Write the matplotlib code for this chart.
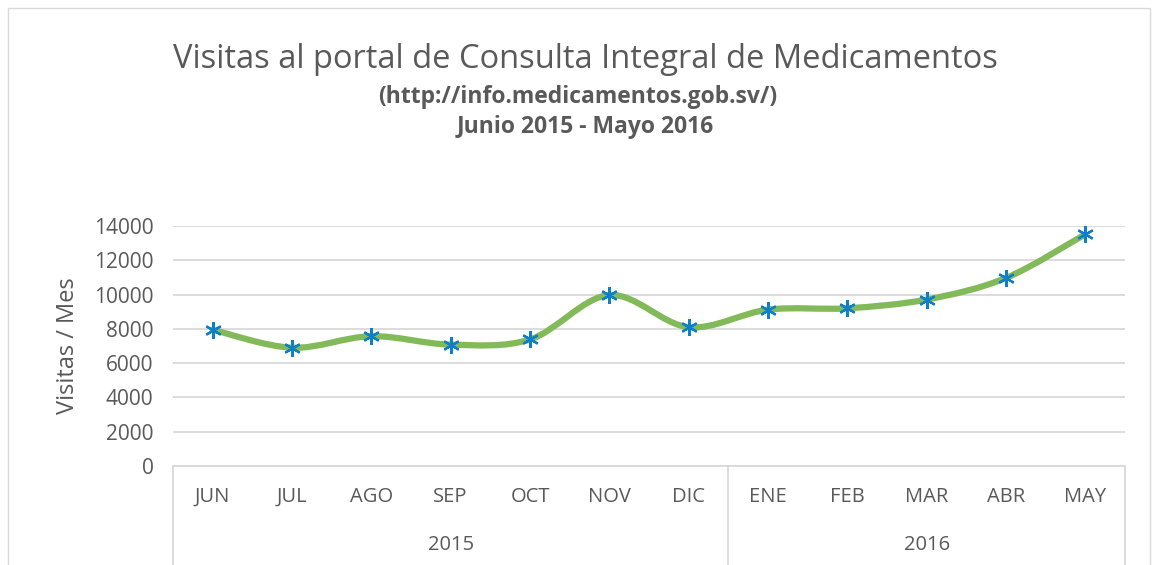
import numpy as np
import matplotlib.pyplot as plt
from matplotlib.path import Path
from matplotlib.patches import PathPatch, Rectangle
import matplotlib.transforms as mtransforms

# Data
months = ['JUN', 'JUL', 'AGO', 'SEP', 'OCT', 'NOV', 'DIC', 'ENE', 'FEB', 'MAR', 'ABR', 'MAY']
years = ['2015', '2016']
months_per_year = [7, 5]
visits = [7950, 6900, 7570, 7080, 7380, 9970, 8100, 9120, 9200, 9710, 10970, 13520]

TEXT = '#595959'
GRID = '#D9D9D9'
LINE = '#82BA5A'
MARK = '#0F7FC9'
FONT = 'Open Sans'

W, H = 1153, 565
fig = plt.figure(figsize=(W / 100, H / 100), dpi=100)
fig.patch.set_facecolor('white')

# outer chart border
fig.add_artist(Rectangle((8 / W, -0.01), (1150 - 8) / W, (H - 8) / H + 0.01,
                         transform=fig.transFigure, fill=False, edgecolor=GRID, lw=1))

left, right, top, bottom = 173, 1125, 226, 466
ax = fig.add_axes([left / W, 1 - bottom / H, (right - left) / W, (bottom - top) / H])
ax.set_xlim(-0.5, len(months) - 0.5)
ax.set_ylim(0, 14000)
ax.set_yticks(np.arange(0, 14001, 2000))
ax.yaxis.grid(True, color=GRID, lw=1.3)
ax.set_axisbelow(True)
for s in ax.spines.values():
    s.set_visible(False)
ax.tick_params(axis='y', length=0, pad=14, labelsize=15, labelcolor=TEXT)
for lbl in ax.get_yticklabels():
    lbl.set_fontfamily(FONT)

ax.set_xticks(range(len(months)))
ax.set_xticklabels(months, fontfamily=FONT, fontsize=14.5, color=TEXT)
ax.tick_params(axis='x', length=0, pad=15)

ax.set_ylabel('Visitas / Mes', fontfamily=FONT, fontsize=17, color=TEXT, labelpad=10)

# smoothed line (Excel style bezier through the points)
x = np.arange(len(visits), dtype=float)
y = np.array(visits, dtype=float)
px = np.concatenate([[x[0]], x, [x[-1]]])
py = np.concatenate([[y[0]], y, [y[-1]]])
verts = [(x[0], y[0])]
codes = [Path.MOVETO]
for i in range(1, len(x)):
    c1 = (px[i] + (px[i + 1] - px[i - 1]) / 6, py[i] + (py[i + 1] - py[i - 1]) / 6)
    c2 = (px[i + 1] - (px[i + 2] - px[i]) / 6, py[i + 1] - (py[i + 2] - py[i]) / 6)
    verts += [c1, c2, (px[i + 1], py[i + 1])]
    codes += [Path.CURVE4] * 3
ax.add_patch(PathPatch(Path(verts, codes), fill=False, edgecolor=LINE, lw=4.5,
                       capstyle='round', joinstyle='round', zorder=3))
ax.plot(x, y, linestyle='none', marker=(6, 2, 0), markersize=12,
        markeredgecolor=MARK, markeredgewidth=1.6, zorder=4)

# multi-level category axis
trans = mtransforms.blended_transform_factory(ax.transData, ax.transAxes)
depth = -(H - bottom) / (bottom - top) - 0.05
ax.plot([-0.5, len(months) - 0.5], [0, 0], transform=trans, color=GRID, lw=1.3, clip_on=False)
edges = np.concatenate([[0], np.cumsum(months_per_year)]) - 0.5
for e in edges:
    ax.plot([e, e], [0, depth], transform=trans, color=GRID, lw=1.3, clip_on=False)
for yr, a, b in zip(years, edges[:-1], edges[1:]):
    ax.text((a + b) / 2, -(545 - bottom) / (bottom - top), yr, transform=trans,
            ha='center', va='center', fontfamily=FONT, fontsize=14.5, color=TEXT)

# titles
fig.text(585 / W, 1 - 60 / H, 'Visitas al portal de Consulta Integral de Medicamentos',
         ha='center', va='center', fontfamily=FONT, fontsize=23.5, color=TEXT)
fig.text(578 / W, 1 - 97 / H, '(http://info.medicamentos.gob.sv/)',
         ha='center', va='center', fontfamily=FONT, fontsize=16.5, fontweight='bold', color=TEXT)
fig.text(585 / W, 1 - 127 / H, 'Junio 2015 - Mayo 2016',
         ha='center', va='center', fontfamily=FONT, fontsize=16.5, fontweight='bold', color=TEXT)

fig.savefig('out.png', dpi=100)
